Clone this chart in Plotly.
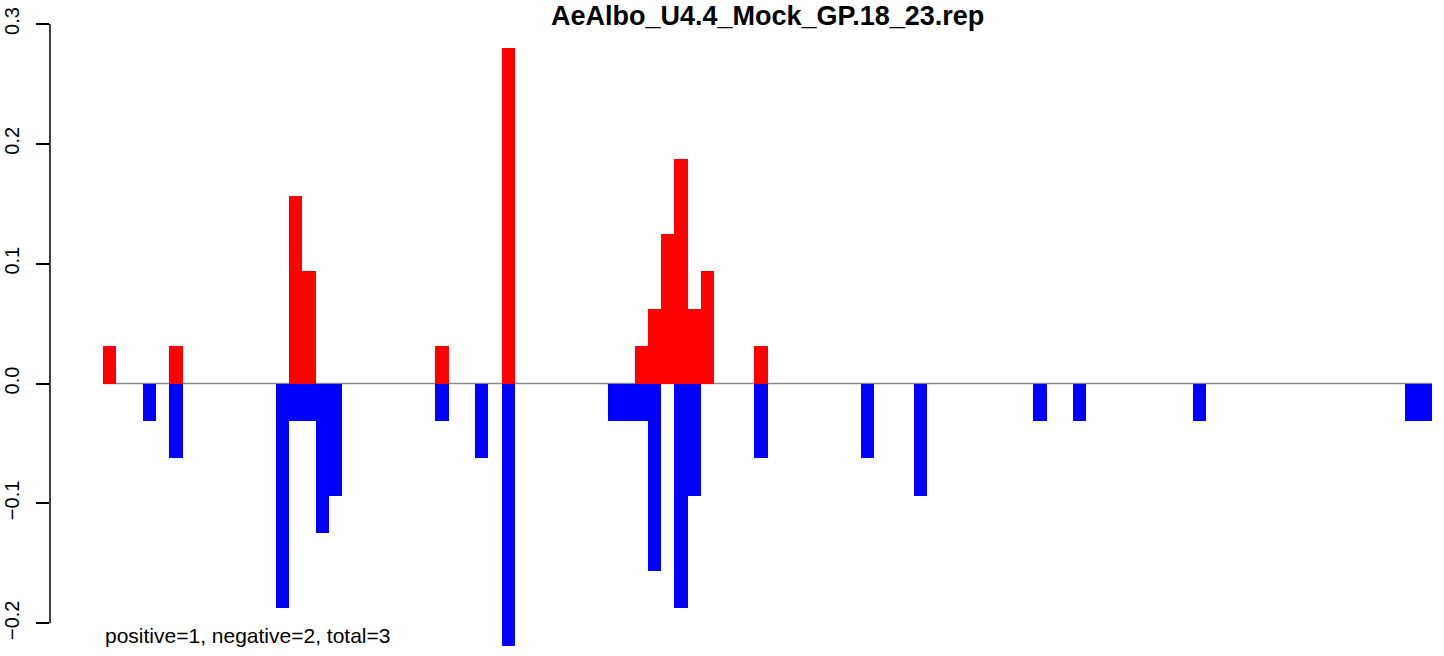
import plotly.graph_objects as go

# ---- data (bin index along the sequence, value) ----
title_text = "AeAlbo_U4.4_Mock_GP.18_23.rep"
note_text = "positive=1, negative=2, total=3"

pos_bins = [0, 5, 14, 15, 25, 30, 40, 41, 42, 43, 44, 45, 49]
pos_vals = [0.03125, 0.03125, 0.15625, 0.09375, 0.03125, 0.28, 0.03125,
            0.0625, 0.125, 0.1875, 0.0625, 0.09375, 0.03125]

neg_bins = [3, 5, 13, 14, 15, 16, 17, 25, 28, 30, 38, 39, 40, 41, 43, 44,
            49, 57, 61, 70, 73, 82, 98, 99]
neg_vals = [-0.03125, -0.0625, -0.1875, -0.03125, -0.03125, -0.125, -0.09375,
            -0.03125, -0.0625, -0.21875, -0.03125, -0.03125, -0.03125, -0.15625,
            -0.1875, -0.09375, -0.0625, -0.0625, -0.09375, -0.03125, -0.03125,
            -0.03125, -0.03125, -0.03125]

n_bins = 100
y_ticks = [-0.2, -0.1, 0.0, 0.1, 0.2, 0.3]
y_tick_text = ["\u22120.2", "\u22120.1", "0.0", "0.1", "0.2", "0.3"]

FONT = "Liberation Sans, Arial, Helvetica, sans-serif"

fig = go.Figure()
fig.add_trace(go.Bar(x=[b + 0.5 for b in pos_bins], y=pos_vals, width=1.0,
                     marker=dict(color="#FF0000", line=dict(width=0)),
                     hoverinfo="skip"))
fig.add_trace(go.Bar(x=[b + 0.5 for b in neg_bins], y=neg_vals, width=1.0,
                     marker=dict(color="#0000FF", line=dict(width=0)),
                     hoverinfo="skip"))

# zero line under the bars
fig.add_shape(type="line", xref="x", yref="y", x0=0, x1=n_bins, y0=0, y1=0,
              line=dict(color="#8a8a8a", width=1.5), layer="below")
# y axis line spanning only the tick range (R style)
fig.add_shape(type="line", xref="paper", yref="y", x0=0, x1=0,
              y0=y_ticks[0], y1=y_ticks[-1],
              line=dict(color="black", width=1.5), layer="above")

fig.add_annotation(x=n_bins / 2, y=0.307, xref="x", yref="y",
                   text="<b>" + title_text + "</b>", showarrow=False,
                   xanchor="center", yanchor="middle",
                   font=dict(family=FONT, size=27, color="black"))
fig.add_annotation(x=0, y=-0.2105, xref="x", yref="y", text=note_text,
                   showarrow=False, xanchor="left", yanchor="middle",
                   font=dict(family=FONT, size=21, color="black"))

fig.update_layout(
    width=1444, height=656,
    margin=dict(l=50, r=0, t=0, b=0),
    paper_bgcolor="white", plot_bgcolor="white",
    barmode="overlay", bargap=0, showlegend=False,
    xaxis=dict(visible=False, range=[-3.988, 100.9], fixedrange=True),
    yaxis=dict(range=[-0.2273, 0.32], tickvals=y_ticks, ticktext=y_tick_text,
               tickangle=-90, ticks="outside", ticklen=13, tickwidth=1.5,
               tickcolor="black", showline=False, showgrid=False,
               zeroline=False, automargin=False, ticklabelstandoff=9,
               tickfont=dict(family=FONT, size=20, color="black")),
)

fig.write_html("out.html", config={"displayModeBar": False},
               post_script="document.body.style.margin='0';document.body.style.overflow='hidden';")
